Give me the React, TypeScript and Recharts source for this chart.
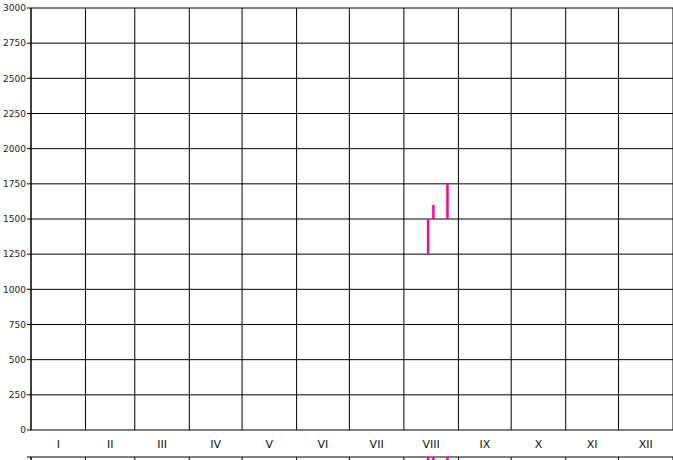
import { ComposedChart, Bar, XAxis, YAxis, CartesianGrid, ReferenceLine } from "recharts"

// month boundaries in day-of-year, and labels
const monthStarts = [0, 31, 59, 90, 120, 151, 181, 212, 243, 273, 304, 334, 365]
const monthLabels = ["I", "II", "III", "IV", "V", "VI", "VII", "VIII", "IX", "X", "XI", "XII"]
const yTicks = [0, 250, 500, 750, 1000, 1250, 1500, 1750, 2000, 2250, 2500, 2750, 3000]

// visible panel
const days = [226, 229, 237]
const lows = [1250, 1500, 1500]
const highs = [1500, 1600, 1750]

// panel below (only its top edge shows)
const lowsNext = [2850, 2900, 2880]
const highsNext = [3000, 3000, 3000]

const monthMids = monthLabels.map((_, i) => (monthStarts[i] + monthStarts[i + 1]) / 2)

const PLOT_H = 422
const LABEL_H = 27
const PINK = "#ff0096"

function Panel({ low, high, top, topLabel }: { low: number[]; high: number[]; top: number; topLabel: boolean }) {
  const data = days.map((d, i) => ({ day: d, range: [low[i], high[i]] }))
  return (
    <div style={{ position: "absolute", left: 0, top }}>
      <ComposedChart
        width={673}
        height={LABEL_H + PLOT_H + 6}
        data={data}
        margin={{ top: 0, right: 0, bottom: 0, left: 0 }}
      >
        <CartesianGrid xAxisId="b" stroke="#000" strokeWidth={1} vertical={false} />
        {monthStarts.map((d) => (
          <ReferenceLine key={d} xAxisId="b" x={d} stroke="#000" strokeWidth={1} ifOverflow="visible" />
        ))}
        <XAxis
          xAxisId="t"
          orientation="top"
          dataKey="day"
          type="number"
          domain={[0, 365]}
          ticks={monthStarts}
          tick={false}
          tickSize={3}
          tickLine={{ stroke: "#000" }}
          axisLine={false}
          height={1}
          interval={0}
          allowDataOverflow
        />
        <XAxis
          xAxisId="lab"
          orientation="top"
          dataKey="day"
          type="number"
          domain={[0, 365]}
          ticks={monthMids}
          tickFormatter={(v: number) => monthLabels[monthMids.indexOf(v)]}
          tick={{ fontSize: 11, fill: "#111" }}
          tickLine={false}
          tickSize={0}
          tickMargin={9}
          axisLine={false}
          height={LABEL_H - 1}
          interval={0}
          allowDataOverflow
        />
        <XAxis
          xAxisId="b"
          orientation="bottom"
          dataKey="day"
          type="number"
          domain={[0, 365]}
          ticks={monthStarts}
          tick={false}
          tickSize={3}
          tickLine={{ stroke: "#000" }}
          axisLine={false}
          height={6}
          interval={0}
          allowDataOverflow
        />
        <YAxis
          type="number"
          domain={[0, 3000]}
          ticks={yTicks}
          width={31}
          interval={0}
          tickFormatter={(v: number) => (v === 3000 && !topLabel ? "" : String(v))}
          tick={{ fontSize: 9, fill: "#222" }}
          tickSize={4}
          tickMargin={1}
          tickLine={{ stroke: "#000" }}
          axisLine={{ stroke: "#000" }}
          allowDataOverflow
        />
        <Bar xAxisId="b" dataKey="range" fill={PINK} barSize={2.5} isAnimationActive={false} />
      </ComposedChart>
    </div>
  )
}

export default function App() {
  return (
    <div
      style={{
        position: "absolute",
        left: 0,
        top: 0,
        width: 673,
        height: 460,
        overflow: "hidden",
        background: "#fff",
        fontFamily: "DejaVu Sans",
      }}
    >
      <Panel low={lows} high={highs} top={8 - LABEL_H} topLabel />
      <Panel low={lowsNext} high={highsNext} top={457 - LABEL_H} topLabel={false} />
    </div>
  )
}
